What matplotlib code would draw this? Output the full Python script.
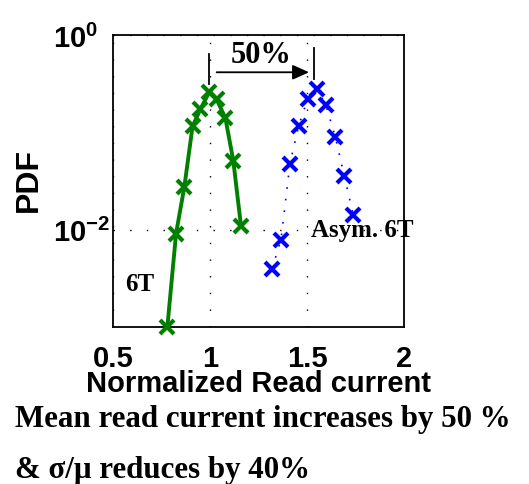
import numpy as np
import matplotlib
matplotlib.use('agg')
import matplotlib.pyplot as plt

x_6t = [0.78, 0.825, 0.868, 0.91, 0.95, 0.996, 1.034, 1.079, 1.12, 1.16]
pdf_6t = [0.00099, 0.0091, 0.0277, 0.115, 0.172, 0.259, 0.218, 0.141, 0.0513, 0.0108]
x_asym = [1.32, 1.366, 1.412, 1.457, 1.503, 1.549, 1.598, 1.646, 1.692, 1.739]
pdf_asym = [0.00396, 0.0079, 0.0475, 0.117, 0.218, 0.281, 0.189, 0.0896, 0.0357, 0.0141]
xticks = [0.5, 1, 1.5, 2]
yticks = [1e-2, 1e0]

sans = 'Liberation Sans'
serif = 'Liberation Serif'
plt.rcParams['mathtext.fontset'] = 'custom'
plt.rcParams['mathtext.bf'] = 'Liberation Sans:bold'
plt.rcParams['mathtext.rm'] = 'Liberation Sans:bold'
plt.rcParams['mathtext.it'] = 'Liberation Sans:bold'

f = plt.figure(figsize=(5.29, 4.85), dpi=100)
ax = f.add_axes([0.2136, 0.3237, 0.5501, 0.6021])

ax.plot(x_6t, pdf_6t, color='#007f00', lw=2.8, marker='x', ms=10, mew=3, clip_on=False, zorder=3)
ax.plot(x_asym, pdf_asym, color='#0000ff', lw=1.2, ls=(0, (1, 6)), marker='x', ms=10, mew=3, clip_on=False, zorder=3)

ax.set_yscale('log')
ax.set_xlim(0.5, 2)
ax.set_ylim(1e-3, 1e0)
ax.set_xticks(xticks)
ax.set_xticklabels(['0.5', '1', '1.5', '2'])
ax.set_yticks(yticks)
ax.set_yticklabels([r'$\mathbf{10^{-2}}$', r'$\mathbf{10^{0}}$'])
ax.yaxis.set_minor_locator(matplotlib.ticker.NullLocator())
ax.tick_params(length=0)
ax.tick_params(axis='x', pad=12)
ax.tick_params(axis='y', pad=43)
for lab in ax.get_xticklabels():
    lab.set_fontfamily(sans); lab.set_fontweight('bold'); lab.set_fontsize(21)
for lab in ax.get_yticklabels():
    lab.set_fontsize(21)
    lab.set_horizontalalignment('left')
ax.grid(True, color='k', ls=(0, (1, 11)), lw=1)
for s in ax.spines.values():
    s.set_linewidth(1.3)

ax.set_xlabel('Normalized Read current', fontfamily=sans, fontweight='bold', fontsize=21, labelpad=-2)
ax.set_ylabel('PDF', fontfamily=sans, fontweight='bold', fontsize=23)
ax.yaxis.set_label_coords(-0.238, 0.507)

# annotations
ax.plot([0.996, 0.996], [0.311, 0.636], color='k', lw=1.3)
ax.plot([1.538, 1.538], [0.351, 0.734], color='k', lw=1.3)
ax.annotate('', xy=(1.525, 0.414), xytext=(1.02, 0.414),
            arrowprops=dict(arrowstyle='-|>,head_length=1.0,head_width=0.45', color='k', lw=1.3))
ax.text(1.265, 0.63, '50%', fontfamily=serif, fontweight='bold', fontsize=22, ha='center', va='center')
ax.text(1.52, 0.01, 'Asym. 6T', fontfamily=serif, fontweight='bold', fontsize=18, ha='left', va='center')
ax.text(0.565, 0.0028, '6T', fontfamily=serif, fontweight='bold', fontsize=18, ha='left', va='center')

f.text(0.028, 1 - 427 / 485, 'Mean read current increases by 50 %',
       fontfamily=serif, fontweight='bold', fontsize=22.3, ha='left', va='baseline')
f.text(0.028, 1 - 478 / 485, '& σ/μ reduces by 40%',
       fontfamily=serif, fontweight='bold', fontsize=22.3, ha='left', va='baseline')

plt.savefig('out.png', dpi=100)
plt.close()
